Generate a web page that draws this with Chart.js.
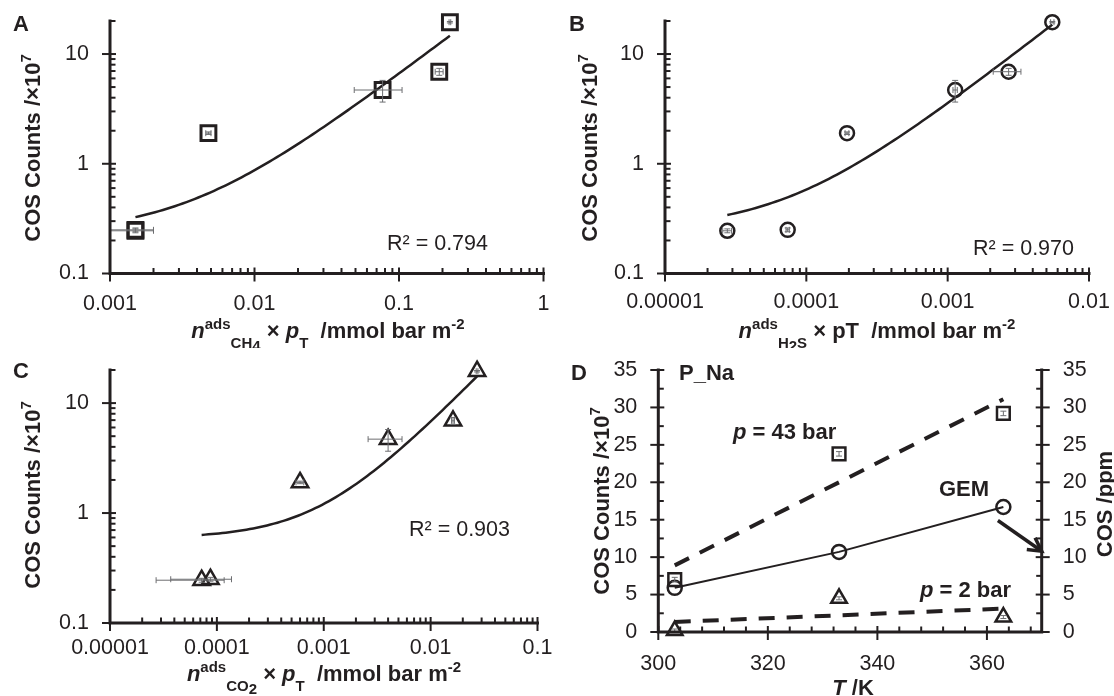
<!DOCTYPE html>
<html>
<head>
<meta charset="utf-8">
<script src="https://cdn.jsdelivr.net/npm/chart.js@4.4.1/dist/chart.umd.min.js"></script>
<style>
  html, body { margin: 0; padding: 0; background: #fff; }
  #wrap { position: relative; width: 1114px; height: 696px; overflow: hidden; }
  .panel { position: absolute; width: 557px; height: 348px; }
</style>
</head>
<body>
<div id="wrap">
  <div class="panel" style="left:0;top:0"><canvas id="chartA" width="557" height="348"></canvas></div>
  <div class="panel" style="left:557px;top:0"><canvas id="chartB" width="557" height="348"></canvas></div>
  <div class="panel" style="left:0;top:348px"><canvas id="chartC" width="557" height="348"></canvas></div>
  <div class="panel" style="left:557px;top:348px"><canvas id="chartD" width="557" height="348"></canvas></div>
</div>
<script>
const ink = '#231f20';
const errInk = '#6d6e71';
const FONT = "'Liberation Sans', Arial, Helvetica, sans-serif";

// COS counts (x10^7) for the six runs, shared by panels A-C
const cosCounts = [0.245, 0.25, 1.9, 4.7, 6.9, 19.5];
const cosCountsErr = [0.01, 0.01, 0.05, 1.05, 0.5, 0.3];

// A: n_ads(CH4) x pT
const xCH4 = [0.0015, 0.0015, 0.0048, 0.077, 0.19, 0.225];
const xCH4Err = [0.0005, 0.0005, 0.0002, 0.028, 0.012, 0.003];

// B: n_ads(H2S) x pT
const xH2S = [0.0000276, 0.0000738, 0.000194, 0.00113, 0.0027, 0.0055];
const xH2SErr = [0.000002, 0.000002, 0.000006, 0.00004, 0.0006, 0.00015];

// C: n_ads(CO2) x pT
const xCO2 = [0.000072, 0.000087, 0.0006, 0.004, 0.0162, 0.0272];
const xCO2Err = [0.000045, 0.00005, 0.00005, 0.0014, 0.0005, 0.0005];

// D: temperature runs
const tempK = [303, 333, 363];
const counts43bar = [7.0, 23.8, 29.2];
const countsGEM = [5.9, 10.7, 16.7];
const counts2bar = [0.2, 4.5, 2.0];

const r2Labels = ['R\u00b2 = 0.794', 'R\u00b2 = 0.970', 'R\u00b2 = 0.903'];

// tick labels
const logYTicks = ['0.1', '1', '10'];
const xTicksA = ['0.001', '0.01', '0.1', '1'];
const xTicksB = ['0.00001', '0.0001', '0.001', '0.01'];
const xTicksC = ['0.00001', '0.0001', '0.001', '0.01', '0.1'];
const tTicks = ['300', '320', '340', '360'];
const countTicks = ['0', '5', '10', '15', '20', '25', '30', '35'];

Chart.defaults.font.family = FONT;
Chart.defaults.color = ink;
Chart.defaults.animation = false;

// ---------- helpers ----------
function pairs(xs, ys) {
  return xs.map((x, i) => ({ x: x, y: ys[i] }));
}

function linearFit(xs, ys) {
  const n = xs.length;
  const mx = xs.reduce((s, v) => s + v, 0) / n;
  const my = ys.reduce((s, v) => s + v, 0) / n;
  let sxy = 0, sxx = 0;
  xs.forEach((x, i) => {
    sxy += (x - mx) * (ys[i] - my);
    sxx += (x - mx) * (x - mx);
  });
  const b = sxy / sxx;
  return { a: my - b * mx, b: b };
}

// least-squares line, sampled along a log x axis so it bends like the Excel trendline
function trendOnLog(xs, ys) {
  const f = linearFit(xs, ys);
  const lo = Math.log10(Math.min(...xs));
  const hi = Math.log10(Math.max(...xs));
  const pts = [];
  for (let i = 0; i <= 80; i++) {
    const x = Math.pow(10, lo + (hi - lo) * i / 80);
    pts.push({ x: x, y: f.a + f.b * x });
  }
  return pts;
}

function trendOnLinear(xs, ys) {
  const f = linearFit(xs, ys);
  const x0 = Math.min(...xs), x1 = Math.max(...xs);
  return [{ x: x0, y: f.a + f.b * x0 }, { x: x1, y: f.a + f.b * x1 }];
}

function partFont(f, size) {
  const small = f.includes('^') || f.includes('_');
  const sz = small ? Math.round(size * 0.68) : size;
  return (f.includes('i') ? 'italic ' : '') + (f.includes('r') ? '' : 'bold ') + sz + 'px ' + FONT;
}

function partShift(f, size) {
  if (f.includes('^')) return -size * 0.4;
  if (f.includes('__')) return size * 0.6;
  if (f.includes('_')) return size * 0.45;
  return 0;
}

// mixed bold/italic/sub/superscript text, (cx, cy) = middle of the cap height
function drawRich(ctx, parts, cx, cy, size, angle, align) {
  ctx.save();
  ctx.translate(cx, cy);
  if (angle) ctx.rotate(angle);
  ctx.fillStyle = ink;
  ctx.textBaseline = 'alphabetic';
  ctx.textAlign = 'left';
  let w = 0;
  parts.forEach(p => { ctx.font = partFont(p[1], size); w += ctx.measureText(p[0]).width; });
  let x = align === 'left' ? 0 : -w / 2;
  const base = size * 0.36;
  parts.forEach(p => {
    ctx.font = partFont(p[1], size);
    ctx.fillText(p[0], x, base + partShift(p[1], size));
    x += ctx.measureText(p[0]).width;
  });
  ctx.restore();
}

function minorValues(scale, spec) {
  const out = [];
  if (spec === 'log') {
    const e0 = Math.floor(Math.log10(scale.min)), e1 = Math.ceil(Math.log10(scale.max));
    for (let e = e0; e <= e1; e++) {
      for (let k = 2; k <= 9; k++) {
        const v = k * Math.pow(10, e);
        if (v > scale.min * 1.0001 && v <= scale.max * 1.0001) out.push(v);
      }
    }
  } else if (spec) {
    for (let v = scale.min; v <= scale.max + 1e-9; v += spec) out.push(v);
  }
  return out;
}

function tickMark(ctx, s, a, v, inner, outer) {
  const p = s.getPixelForValue(v);
  ctx.beginPath();
  if (s.isHorizontal()) {
    ctx.moveTo(p, a.bottom - inner); ctx.lineTo(p, a.bottom + outer);
  } else if (s.position === 'left') {
    ctx.moveTo(a.left - outer, p); ctx.lineTo(a.left + inner, p);
  } else {
    ctx.moveTo(a.right + outer, p); ctx.lineTo(a.right - inner, p);
  }
  ctx.stroke();
}

function drawFrame(chart, cfg) {
  const ctx = chart.ctx, a = chart.chartArea;
  ctx.save();
  ctx.strokeStyle = ink;
  ctx.lineWidth = 2;
  Object.keys(chart.scales).forEach(id => {
    const s = chart.scales[id];
    const majors = s.ticks.map(t => t.value);
    minorValues(s, cfg.minor[id]).forEach(v => {
      if (!majors.some(m => Math.abs(m - v) < 1e-9 * Math.max(1, Math.abs(v)))) tickMark(ctx, s, a, v, 5.5, 0);
    });
    majors.forEach(v => tickMark(ctx, s, a, v, 6, 8));
  });
  ctx.lineWidth = 3;
  ctx.lineCap = 'square';
  ctx.beginPath();
  ctx.moveTo(a.left, a.top);
  ctx.lineTo(a.left, a.bottom);
  ctx.lineTo(a.right, a.bottom);
  if (chart.scales.y2) ctx.lineTo(a.right, a.top);
  ctx.stroke();
  ctx.restore();
}

function drawErrorBars(chart) {
  const ctx = chart.ctx;
  const xs = chart.scales.x, ys = chart.scales.y;
  ctx.save();
  ctx.strokeStyle = errInk;
  ctx.lineWidth = 1;
  chart.data.datasets.forEach(ds => {
    if (!ds.errX && !ds.errY) return;
    ds.data.forEach((pt, i) => {
      const px = xs.getPixelForValue(pt.x), py = ys.getPixelForValue(pt.y);
      if (ds.errX) {
        const l = xs.getPixelForValue(pt.x - ds.errX[i]), r = xs.getPixelForValue(pt.x + ds.errX[i]);
        ctx.beginPath();
        ctx.moveTo(l, py); ctx.lineTo(r, py);
        ctx.moveTo(l, py - 3); ctx.lineTo(l, py + 3);
        ctx.moveTo(r, py - 3); ctx.lineTo(r, py + 3);
        ctx.stroke();
      }
      if (ds.errY) {
        const t = ys.getPixelForValue(pt.y + ds.errY[i]), b = ys.getPixelForValue(pt.y - ds.errY[i]);
        ctx.beginPath();
        ctx.moveTo(px, t); ctx.lineTo(px, b);
        ctx.moveTo(px - 3, t); ctx.lineTo(px + 3, t);
        ctx.moveTo(px - 3, b); ctx.lineTo(px + 3, b);
        ctx.stroke();
      }
    });
  });
  ctx.restore();
}

function drawArrow(chart, from, to) {
  const ctx = chart.ctx, xs = chart.scales.x, ys = chart.scales.y;
  const x0 = xs.getPixelForValue(from[0]), y0 = ys.getPixelForValue(from[1]);
  const x1 = xs.getPixelForValue(to[0]), y1 = ys.getPixelForValue(to[1]);
  const ang = Math.atan2(y1 - y0, x1 - x0);
  ctx.save();
  ctx.strokeStyle = ink;
  ctx.lineWidth = 3.5;
  ctx.lineCap = 'butt';
  ctx.beginPath();
  ctx.moveTo(x0, y0); ctx.lineTo(x1 - 2 * Math.cos(ang), y1 - 2 * Math.sin(ang));
  ctx.stroke();
  ctx.lineJoin = 'miter';
  ctx.beginPath();
  ctx.moveTo(x1 - 15 * Math.cos(ang - 0.5), y1 - 15 * Math.sin(ang - 0.5));
  ctx.lineTo(x1, y1);
  ctx.lineTo(x1 - 15 * Math.cos(ang + 0.5), y1 - 15 * Math.sin(ang + 0.5));
  ctx.stroke();
  ctx.restore();
}

function framePlugin(cfg) {
  return {
    id: 'frame',
    afterDatasetsDraw(chart) { drawErrorBars(chart); },
    afterDraw(chart) {
      drawFrame(chart, cfg);
      if (cfg.arrow) drawArrow(chart, cfg.arrow.from, cfg.arrow.to);
      cfg.texts.forEach(t => drawRich(chart.ctx, t.parts, t.x, t.y, t.size || 22, t.angle || 0, t.align));
    }
  };
}

function fixedTicks(labels) {
  return scale => { scale.ticks = labels.map(l => ({ value: parseFloat(l) })); };
}

const noGrid = { display: false, drawTicks: false };
const yTitleParts = [['COS Counts /\u00d710', ''], ['7', '^']];

// ---------- log-log panels A, B, C ----------
function logPanel(id, xs, xErr, marker, xMin, xMax, xLabels, box, texts) {
  const points = {
    data: pairs(xs, cosCounts),
    errX: xErr,
    errY: cosCountsErr,
    showLine: false,
    pointStyle: marker.style,
    pointRadius: marker.r,
    pointBorderWidth: marker.w,
    pointBorderColor: ink,
    pointBackgroundColor: 'rgba(0,0,0,0)',
    clip: false
  };
  const trend = {
    data: trendOnLog(xs, cosCounts),
    showLine: true,
    borderColor: ink,
    borderWidth: 2.5,
    pointRadius: 0,
    tension: 0,
    clip: false
  };
  return new Chart(document.getElementById(id), {
    type: 'scatter',
    data: { datasets: [points, trend] },
    options: {
      responsive: false,
      layout: { padding: { top: box.top, right: box.right, left: 0, bottom: 0 } },
      plugins: { legend: { display: false }, tooltip: { enabled: false } },
      scales: {
        x: {
          type: 'logarithmic', min: xMin, max: xMax,
          grid: noGrid, border: { display: false },
          afterBuildTicks: fixedTicks(xLabels),
          afterFit(s) { s.height = box.xh; s.paddingLeft = 0; s.paddingRight = 0; },
          ticks: { autoSkip: false, maxRotation: 0, padding: box.xpad, font: { size: 21.5 }, color: ink,
                   callback: (v, i) => xLabels[i] }
        },
        y: {
          type: 'logarithmic', min: 0.1, max: 20,
          grid: noGrid, border: { display: false },
          afterBuildTicks: fixedTicks(logYTicks),
          afterFit(s) { s.width = box.yw; s.paddingTop = 0; s.paddingBottom = 0; },
          ticks: { autoSkip: false, padding: 21, font: { size: 21.5 }, color: ink,
                   callback: (v, i) => logYTicks[i] }
        }
      }
    },
    plugins: [framePlugin({ minor: { x: 'log', y: 'log' }, texts: texts })]
  });
}

logPanel('chartA', xCH4, xCH4Err, { style: 'rect', r: 10.5, w: 3 }, 0.001, 1, xTicksA,
  { top: 21, right: 9, xh: 74.5, yw: 110, xpad: 17.5 },
  [
    { parts: [['A', '']], x: 13, y: 23, align: 'left' },
    { parts: yTitleParts, x: 32, y: 148, angle: -Math.PI / 2 },
    { parts: [['n', 'i'], ['ads', '^'], ['CH', '_'], ['4', '__'], [' \u00d7 ', ''], ['p', 'i'], ['T', '_'],
              ['  /mmol bar m', ''], ['-2', '^']], x: 328, y: 330 },
    { parts: [[r2Labels[0], 'r']], x: 387, y: 242, size: 21.5, align: 'left' }
  ]);

logPanel('chartB', xH2S, xH2SErr, { style: 'circle', r: 7, w: 2.5 }, 0.00001, 0.01, xTicksB,
  { top: 21, right: 25, xh: 74.5, yw: 108, xpad: 16 },
  [
    { parts: [['B', '']], x: 12, y: 23, align: 'left' },
    { parts: yTitleParts, x: 32, y: 148, angle: -Math.PI / 2 },
    { parts: [['n', 'i'], ['ads', '^'], ['H', '_'], ['2', '__'], ['S', '_'], [' \u00d7 pT  /mmol bar m', ''],
              ['-2', '^']], x: 320, y: 330 },
    { parts: [[r2Labels[1], 'r']], x: 416, y: 247, size: 21.5, align: 'left' }
  ]);

logPanel('chartC', xCO2, xCO2Err, { style: 'triangle', r: 9.5, w: 2.5 }, 0.00001, 0.1, xTicksC,
  { top: 22, right: 19.5, xh: 73, yw: 110, xpad: 12 },
  [
    { parts: [['C', '']], x: 13, y: 22, align: 'left' },
    { parts: yTitleParts, x: 32, y: 147, angle: -Math.PI / 2 },
    { parts: [['n', 'i'], ['ads', '^'], ['CO', '_'], ['2', '__'], [' \u00d7 ', ''], ['p', 'i'], ['T', '_'],
              ['  /mmol bar m', ''], ['-2', '^']], x: 324, y: 325 },
    { parts: [[r2Labels[2], 'r']], x: 409, y: 180, size: 21.5, align: 'left' }
  ]);

// ---------- panel D: counts vs temperature ----------
const markerD = { pointBorderColor: ink, pointBackgroundColor: 'rgba(0,0,0,0)', pointBorderWidth: 2.5, clip: false };

new Chart(document.getElementById('chartD'), {
  type: 'scatter',
  data: {
    datasets: [
      Object.assign({ data: pairs(tempK, counts43bar), pointStyle: 'rect', pointRadius: 9, errY: [0.3, 0.3, 0.3] }, markerD),
      Object.assign({ data: pairs(tempK, countsGEM), pointStyle: 'circle', pointRadius: 7,
                      showLine: true, borderColor: ink, borderWidth: 2 }, markerD),
      Object.assign({ data: pairs(tempK, counts2bar), pointStyle: 'triangle', pointRadius: 9, errY: [0.2, 0.2, 0.2] }, markerD),
      { data: trendOnLinear(tempK, counts43bar), showLine: true, borderColor: ink, borderWidth: 4,
        borderDash: [16, 12], pointRadius: 0, clip: false },
      { data: trendOnLinear(tempK, counts2bar), showLine: true, borderColor: ink, borderWidth: 4,
        borderDash: [16, 12], pointRadius: 0, clip: false }
    ]
  },
  options: {
    responsive: false,
    layout: { padding: { top: 22, right: 0, left: 0, bottom: 0 } },
    plugins: { legend: { display: false }, tooltip: { enabled: false } },
    scales: {
      x: {
        type: 'linear', min: 300, max: 370,
        grid: noGrid, border: { display: false },
        afterBuildTicks: fixedTicks(tTicks),
        afterFit(s) { s.height = 64; s.paddingLeft = 0; s.paddingRight = 0; },
        ticks: { autoSkip: false, maxRotation: 0, padding: 19, font: { size: 21.5 }, color: ink,
                 callback: (v, i) => tTicks[i] }
      },
      y: {
        type: 'linear', position: 'left', min: 0, max: 35,
        grid: noGrid, border: { display: false },
        afterBuildTicks: fixedTicks(countTicks),
        afterFit(s) { s.width = 101.3; s.paddingTop = 0; s.paddingBottom = 0; },
        ticks: { autoSkip: false, padding: 21, font: { size: 21.5 }, color: ink, callback: (v, i) => countTicks[i] }
      },
      y2: {
        type: 'linear', position: 'right', min: 0, max: 35,
        grid: noGrid, border: { display: false },
        afterBuildTicks: fixedTicks(countTicks),
        afterFit(s) { s.width = 72.3; s.paddingTop = 0; s.paddingBottom = 0; },
        ticks: { autoSkip: false, padding: 21, font: { size: 21.5 }, color: ink, callback: (v, i) => countTicks[i] }
      }
    }
  },
  plugins: [framePlugin({
    minor: { x: 4, y: 2.5, y2: 2.5 },
    arrow: { from: [362, 14.9], to: [370, 10.8] },
    texts: [
      { parts: [['D', '']], x: 14, y: 24, align: 'left' },
      { parts: [['P_Na', '']], x: 122, y: 24, align: 'left' },
      { parts: [['p', 'i'], [' = 43 bar', '']], x: 176, y: 83, align: 'left' },
      { parts: [['GEM', '']], x: 382, y: 140, align: 'left' },
      { parts: [['p', 'i'], [' = 2 bar', '']], x: 363, y: 241, align: 'left' },
      { parts: yTitleParts, x: 44, y: 153, angle: -Math.PI / 2 },
      { parts: [['COS /ppm', '']], x: 547, y: 156, angle: -Math.PI / 2 },
      { parts: [['T', 'i'], [' /K', '']], x: 296, y: 339 }
    ]
  })]
});
</script>
</body>
</html>
